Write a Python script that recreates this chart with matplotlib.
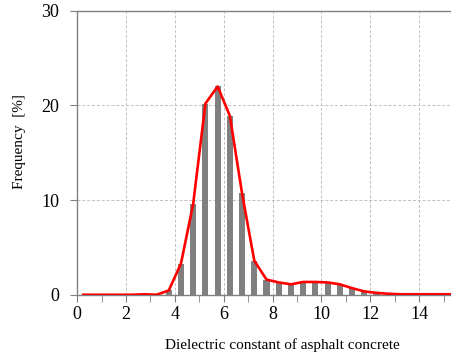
import numpy as np
import matplotlib.pyplot as plt
from matplotlib.ticker import MultipleLocator

# bin centres of the dielectric constant histogram (bin width 0.5)
bin_centres = [0.25, 0.75, 1.25, 1.75, 2.25, 2.75, 3.25, 3.75, 4.25, 4.75,
               5.25, 5.75, 6.25, 6.75, 7.25, 7.75, 8.25, 8.75, 9.25, 9.75,
               10.25, 10.75, 11.25, 11.75, 12.25, 12.75, 13.25, 13.75, 14.25,
               14.75, 15.25]
# frequency [%]
freq = [0, 0, 0, 0, 0, 0.05, 0, 0.45, 3.3, 9.6,
        20.2, 22.0, 18.9, 10.7, 3.6, 1.6, 1.3, 1.1, 1.35, 1.35,
        1.3, 1.1, 0.7, 0.35, 0.2, 0.1, 0.05, 0.05, 0.05,
        0.05, 0.05]
x_ticks = [0, 2, 4, 6, 8, 10, 12, 14]
y_ticks = [0, 10, 20, 30]

plt.rcParams['font.family'] = ['Liberation Serif', 'DejaVu Serif']

fig = plt.figure(figsize=(4.51, 3.59), dpi=100)
ax = fig.add_axes([0.171, 0.179, 0.829, 0.791])

grey = '#808080'
ax.bar(bin_centres, freq, width=0.25, color=grey, zorder=2)
ax.plot(bin_centres, freq, c='red', lw=1.9, zorder=3)

ax.set_xlim(0, 15.3)
ax.set_ylim(0, 30)
ax.set_xticks(x_ticks)
ax.xaxis.set_minor_locator(MultipleLocator(1))
ax.set_yticks(y_ticks)

ax.grid(True, which='major', ls=(0, (3, 2)), color='#c0c0c0', lw=0.7, zorder=0)

ax.spines['right'].set_visible(False)
for s in ['left', 'bottom', 'top']:
    ax.spines[s].set_color(grey)
    ax.spines[s].set_linewidth(1.0)

ax.tick_params(axis='both', which='both', direction='out', color=grey,
               length=5, labelsize=13, labelcolor='black')
ax.tick_params(axis='x', pad=3)
ax.tick_params(axis='y', pad=8)

ax.set_xlabel('Dielectric constant of asphalt concrete', fontsize=11)
ax.xaxis.set_label_coords(0.549, -0.177)
ax.xaxis.label.set_va('center')
ax.set_ylabel('Frequency  [%]', fontsize=11)
ax.yaxis.set_label_coords(-0.154, 0.539)
ax.yaxis.label.set_va('center')

fig.savefig('out.png', dpi=100)
